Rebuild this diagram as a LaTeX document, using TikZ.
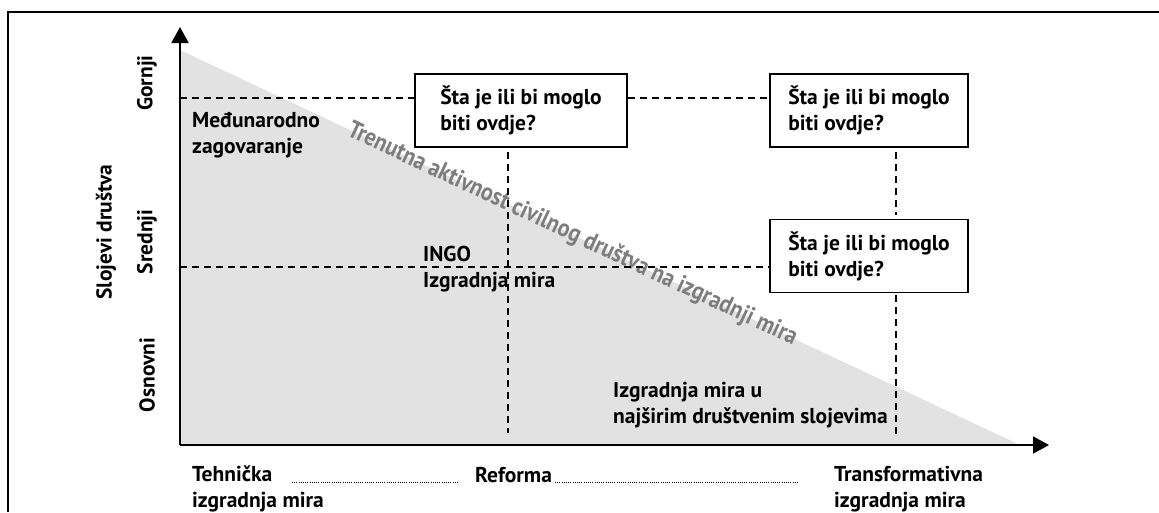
\documentclass[tikz,border=0pt]{standalone}
\usepackage{fontspec}
\setmainfont{PT Sans}
\newfontfamily\narrowfont[FakeStretch=0.88]{PT Sans}
\usepackage{tikz}
\usetikzlibrary{positioning,arrows.meta}

\definecolor{wedgegray}{RGB}{226,226,226}
\definecolor{slopetext}{RGB}{125,125,125}

\tikzset{
  qbox/.style={draw, line width=1.6pt, minimum width=198pt, minimum height=73pt, align=left, inner sep=0pt},
  lbl/.style={align=left, inner sep=0pt, anchor=base west},
  dline/.style={line width=1.4pt, dash pattern=on 7pt off 5pt},
  dotline/.style={line width=0.9pt, dash pattern=on 0.9pt off 1.3pt},
  axis/.style={line width=1.8pt, -{Triangle[length=16pt,width=17pt]}},
}

\begin{document}
\begin{tikzpicture}[x=1pt, y=-1pt, font=\fontsize{21.5}{26}\selectfont\bfseries]
  \useasboundingbox (0,0) rectangle (1159,512);

  % frame
  \draw[line width=2.4pt] (8,512) -- (8,12) -- (1159,12);

  % axes and the wedge
  \coordinate (o) at (180,445);
  \coordinate (ytip) at (180,27);
  \coordinate (xtip) at (1049,445);
  \coordinate (wtop) at (180,50);
  \coordinate (wend) at (1020,445);
  \fill[wedgegray] (wtop) -- (o) -- (wend) -- cycle;
  \draw[axis] (o) -- (ytip);
  \draw[axis] (o) -- (xtip);

  \path (wtop) -- (wend) node[pos=0.467, sloped, inner sep=0pt, text=slopetext,
    font=\narrowfont\fontsize{25}{28}\selectfont\bfseries] (act)
    {Trenutna aktivnost civilnog društva na izgradnji mira};

  % boxes
  \node[qbox, minimum width=212pt] (b1) at (521,110.5) {Šta je ili bi moglo\\biti ovdje?};
  \node[qbox] (b2) at (869,110.5) {Šta je ili bi moglo\\biti ovdje?};
  \node[qbox, below=71pt of b2] (b3) {Šta je ili bi moglo\\biti ovdje?};

  % dashed guides
  \coordinate (gl) at (180,98);
  \coordinate (sl) at (180,267);
  \coordinate (v1) at (508,433);
  \coordinate (v2) at (896,437);

  \path[dline]
    (gl) edge (gl -| b1.west)
    (gl -| b1.east) edge (gl -| b2.west)
    (sl) edge (sl -| b3.west);

  \path[dline]
    (b1.south -| v1) edge[shorten <=4pt] (v1)
    (b2.south -| v2) edge[shorten <=4pt, shorten >=4pt] (b3.north -| v2)
    (b3.south -| v2) edge[shorten <=2pt] (v2);

  % labels in the field
  \node[lbl] (intl) at (192,153) {Međunarodno\\zagovaranje};
  \node[lbl] (ingo) at (423,287) {INGO\\Izgradnja mira};
  \node[lbl] (broad) at (613,423) {Izgradnja mira u\\najširim društvenim slojevima};

  % y axis labels
  \node[rotate=90] (upper) at (147,83) {Gornji};
  \node[rotate=90] (middle) at (147,242) {Srednji};
  \node[rotate=90] (lower) at (147,375) {Osnovni};
  \node[rotate=90] (layers) at (106,232) {Slojevi društva};

  % x axis labels
  \node[lbl] (tech) at (192,507) {Tehnička\\izgradnja mira};
  \node[lbl] (reform) at (475,482) {Reforma};
  \node[lbl] (trans) at (834,507) {Transformativna\\izgradnja mira};

  \coordinate (dstart) at (292,482);
  \coordinate (dend) at (799,482);
  \draw[dotline] (dstart) -- ([xshift=-17pt]reform.base west);
  \draw[dotline] ([xshift=3pt]reform.base east) -- (dend);

\end{tikzpicture}
\end{document}
